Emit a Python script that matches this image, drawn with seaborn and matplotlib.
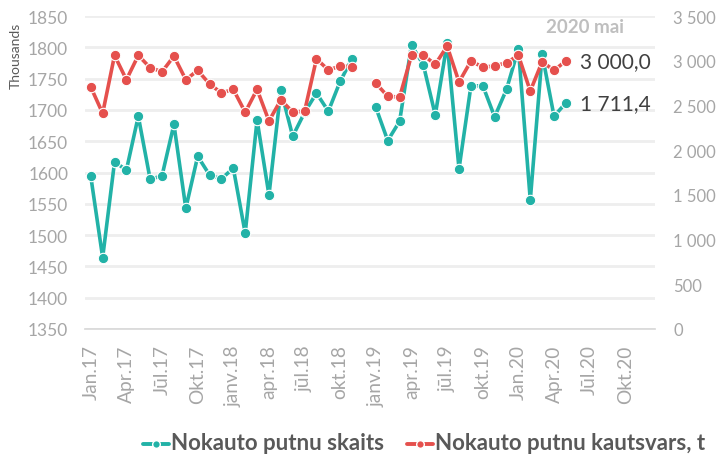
import numpy as np
import pandas as pd
import seaborn as sns
from matplotlib import pyplot as plt
from matplotlib.lines import Line2D

# monthly values Jan 2017 - May 2020, Dec 2018 missing
months = pd.date_range("2017-01-01", "2020-05-01", freq="MS")

skaits = [1594, 1464, 1617, 1604, 1690, 1589, 1595, 1677, 1543, 1626, 1596, 1590,
          1607, 1503, 1684, 1564, 1732, 1658, 1696, 1727, 1698, 1746, 1782, None,
          1704, 1651, 1682, 1804, 1772, 1692, 1807, 1606, 1738, 1739, 1689, 1733,
          1798, 1556, 1789, 1690, 1711.4]

kautsvars = [2707, 2413, 3061, 2789, 3061, 2923, 2878, 3053, 2789, 2893, 2741, 2640,
             2681, 2424, 2681, 2327, 2562, 2428, 2435, 3023, 2897, 2942, 2934, None,
             2748, 2603, 2595, 3061, 3064, 2960, 3165, 2763, 2997, 2930, 2942, 2979,
             3061, 2662, 2990, 2893, 3000.0]

tick_labels = ["Jan.17", "Apr.17", "Jūl.17", "Okt.17", "janv.18", "apr.18", "jūl.18", "okt.18",
               "janv.19", "apr.19", "jūl.19", "okt.19", "Jan.20", "Apr.20", "Jūl.20", "Okt.20"]

teal = "#22b2a7"
red = "#e5504d"
grey = "#a6a6a6"

sns.set_theme(style="white")
plt.rcParams['font.family'] = ['Lato', 'DejaVu Sans']

df = pd.DataFrame({"x": np.arange(len(months)), "skaits": skaits, "kautsvars": kautsvars})
df["seg"] = df["skaits"].isna().cumsum()
df = df.dropna()

fig = plt.figure(figsize=(7.19, 4.64), dpi=100)
ax = fig.add_axes([0.118, 0.289, 0.793, 0.674])
ax2 = ax.twinx()

line_kw = dict(linewidth=2.6, marker="o", markersize=7.5, markeredgecolor="white",
               markeredgewidth=0.8, legend=False)
for seg, part in df.groupby("seg"):
    sns.lineplot(data=part, x="x", y="skaits", ax=ax, color=teal, zorder=3, **line_kw)
    sns.lineplot(data=part, x="x", y="kautsvars", ax=ax2, color=red, zorder=3, **line_kw)

# left axis
ax.set_xlim(-0.5, 47.5)
ax.set_ylim(1350, 1850)
ax.set_yticks(np.arange(1350, 1851, 50))
ax.yaxis.grid(True, color="#eeeeee", linewidth=2)
ax.set_axisbelow(True)
ax.set_xlabel("")
ax.set_ylabel("Thousands", fontsize=10, color="#595959")
ax.yaxis.set_label_coords(-0.11, 0.875)
ax.set_xticks(np.arange(0, 48, 3))
ax.set_xticklabels(tick_labels, rotation=90, fontsize=13.8, color=grey)
ax.tick_params(axis="y", labelsize=12.5, labelcolor=grey, length=0, pad=12)
ax.tick_params(axis="x", length=0, pad=11)

# right axis
ax2.set_ylim(0, 3500)
ax2.set_yticks(np.arange(0, 3501, 500))
ax2.set_yticklabels([f"{v:,}".replace(",", " ") for v in range(0, 3501, 500)])
ax2.set_ylabel("")
ax2.tick_params(axis="y", labelsize=12, labelcolor=grey, length=0, pad=13)
ax2.grid(False)

for a in (ax, ax2):
    for s in a.spines.values():
        s.set_visible(False)
ax.spines["bottom"].set_visible(True)
ax.spines["bottom"].set_color("#d9d9d9")

# end labels
last = df.iloc[-1]
ax2.annotate("3 000,0", (last["x"], last["kautsvars"]), xytext=(10, 0), textcoords="offset points",
             va="center", ha="left", fontsize=15, color="#404040")
ax.annotate("1 711,4", (last["x"], last["skaits"]), xytext=(10, 0), textcoords="offset points",
            va="center", ha="left", fontsize=15, color="#404040")
ax.text(0.877, 0.995, "2020 mai", transform=ax.transAxes, ha="center", va="top",
        fontsize=13.5, fontweight="bold", color="#bfbfbf")

handles = [Line2D([], [], color=teal, lw=2.8, marker="o", markersize=5.5, markeredgecolor="white"),
           Line2D([], [], color=red, lw=2.8, marker="o", markersize=5.5, markeredgecolor="white")]
leg = fig.legend(handles, ["Nokauto putnu skaits", "Nokauto putnu kautsvars, t"],
                 loc="lower center", bbox_to_anchor=(0.59, -0.008), ncol=2, frameon=False,
                 handlelength=1.7, handletextpad=0.15, columnspacing=1.5)
for t in leg.get_texts():
    t.set_fontsize(16)
    t.set_fontweight("bold")
    t.set_color("#595959")

fig.savefig("out.png", dpi=100)
